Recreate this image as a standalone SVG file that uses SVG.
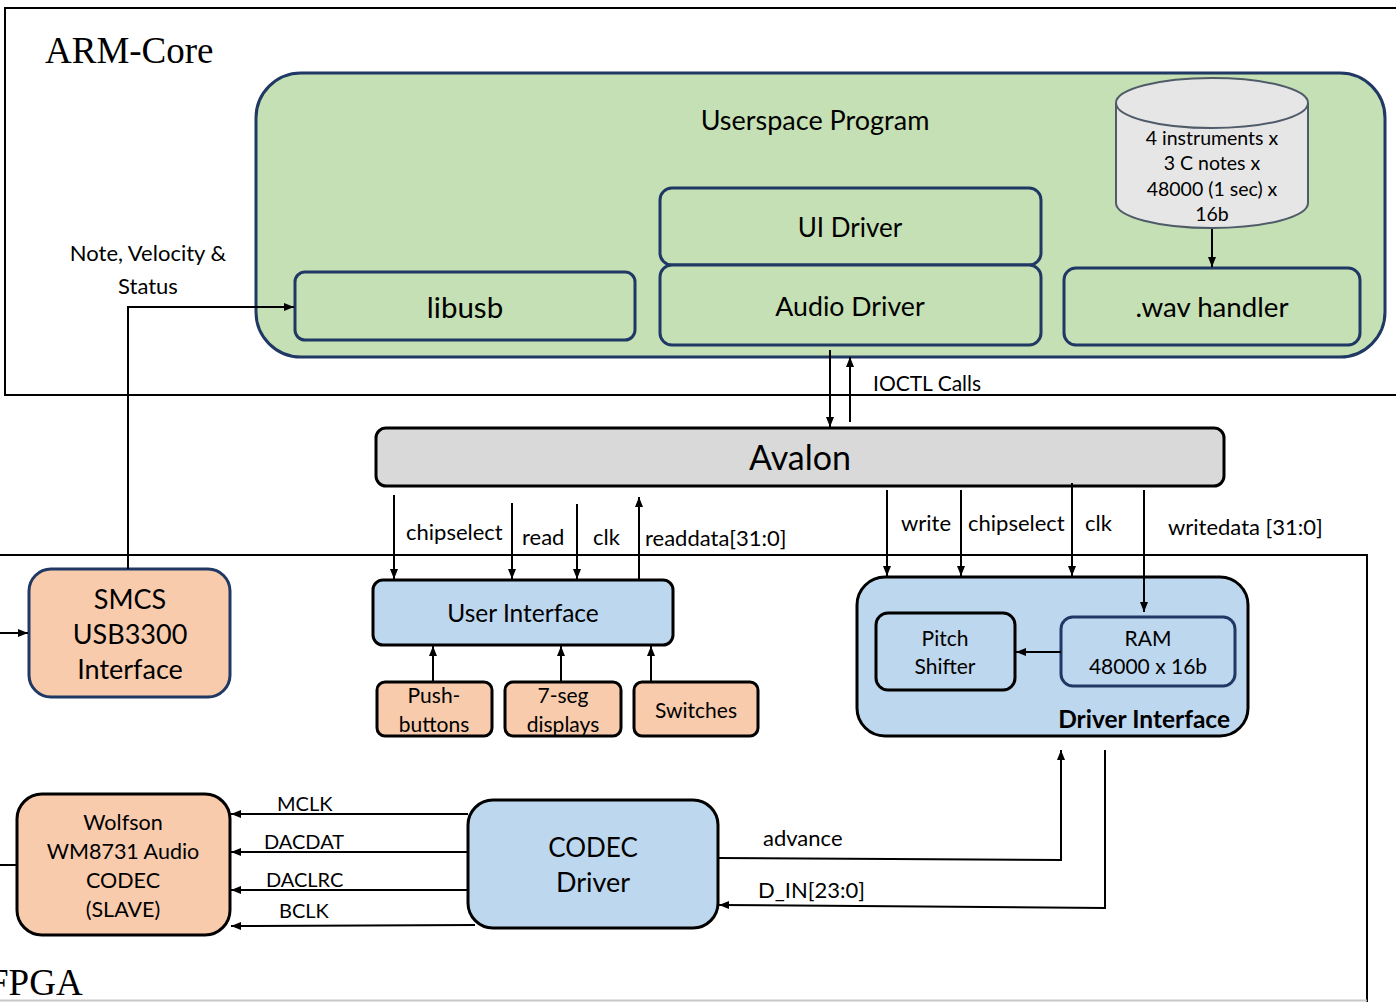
<svg xmlns="http://www.w3.org/2000/svg" width="1396" height="1002" viewBox="0 0 1396 1002">
  <defs>
    <marker id="ah" viewBox="0 0 10 10" refX="10" refY="5" markerWidth="10" markerHeight="10" markerUnits="userSpaceOnUse" orient="auto">
      <path d="M0,1 L10,5 L0,9 z" fill="#000"/>
    </marker>
    <style>
      text { font-family: Lato, "Open Sans", sans-serif; fill: #000; }
      .serif { font-family: "Liberation Serif", serif; font-size: 37px; }
      .c { text-anchor: middle; }
      .lbl { font-size: 22px; }
      .sig { font-size: 20px; }
      .region { fill: none; stroke: #000; stroke-width: 2; }
      .green { fill: #c5e0b4; stroke: #203864; stroke-width: 3; }
      .orange { fill: #f8cbad; stroke: #000; stroke-width: 3; }
      .orange-n { fill: #f8cbad; stroke: #203864; stroke-width: 3; }
      .blue { fill: #bdd7ee; stroke: #000; stroke-width: 3; }
      .blue-n { fill: #bdd7ee; stroke: #203864; stroke-width: 3; }
      .gray { fill: #d9d9d9; stroke: #000; stroke-width: 3; }
      .wire { fill: none; stroke: #000; stroke-width: 2; }
      .arrow { fill: none; stroke: #000; stroke-width: 2; marker-end: url(#ah); }
    </style>
  </defs>

  <rect width="1396" height="1002" fill="#fff"/>

  <!-- ARM-Core region -->
  <g id="arm-core">
    <rect class="region" x="5" y="8" width="1400" height="387"/>
    <text class="serif" x="45" y="63">ARM-Core</text>
  </g>

  <!-- FPGA region -->
  <g id="fpga">
    <rect class="region" x="-10" y="555" width="1377" height="460"/>
    <line x1="0" y1="1000.5" x2="1367" y2="1000.5" stroke="#c8c8c8" stroke-width="2"/>
    <text class="serif" x="-12" y="995">FPGA</text>
  </g>

  <!-- Userspace program container -->
  <g id="userspace">
    <rect class="green" x="256" y="73" width="1129" height="284" rx="45"/>
    <text class="c" x="815" y="130" font-size="27">Userspace Program</text>
  </g>

  <g id="libusb">
    <rect class="green" x="295" y="272" width="340" height="68" rx="10"/>
    <text class="c" x="465" y="318" font-size="29.5">libusb</text>
  </g>

  <g id="ui-driver">
    <rect class="green" x="660" y="188" width="381" height="77" rx="12"/>
    <text class="c" x="850" y="237" font-size="26">UI Driver</text>
  </g>

  <g id="audio-driver">
    <rect class="green" x="660" y="265" width="381" height="80" rx="12"/>
    <text class="c" x="850" y="316" font-size="26.7">Audio Driver</text>
  </g>

  <g id="wav-handler">
    <rect class="green" x="1064" y="268" width="296" height="77" rx="12"/>
    <text class="c" x="1212" y="317" font-size="27.7">.wav handler</text>
  </g>

  <g id="samples">
    <path d="M1116,103 L1116,203 A96,25 0 0 0 1308,203 L1308,103" fill="#e6e6e6" stroke="#4f5b69" stroke-width="2"/>
    <ellipse cx="1212" cy="103" rx="96" ry="25" fill="#e6e6e6" stroke="#4f5b69" stroke-width="2"/>
    <text class="c" x="1212" y="145" font-size="19.5">4 instruments x</text>
    <text class="c" x="1212" y="170" font-size="19.5">3 C notes x</text>
    <text class="c" x="1212" y="196" font-size="19.5">48000 (1 sec) x</text>
    <text class="c" x="1212" y="221" font-size="19.5">16b</text>
  </g>

  <g id="avalon">
    <rect class="gray" x="376" y="428" width="848" height="58" rx="10"/>
    <text class="c" x="800" y="470" font-size="34">Avalon</text>
  </g>

  <g id="smcs">
    <rect class="orange-n" x="29" y="569" width="201" height="128" rx="22"/>
    <text class="c" x="130" y="609" font-size="27">SMCS</text>
    <text class="c" x="130" y="644" font-size="27">USB3300</text>
    <text class="c" x="130" y="679" font-size="27">Interface</text>
  </g>

  <g id="user-interface">
    <rect class="blue" x="373" y="580" width="300" height="65" rx="10"/>
    <text class="c" x="523" y="622" font-size="24.5">User Interface</text>
  </g>

  <g id="pushbuttons">
    <rect class="orange" x="377" y="682" width="115" height="54" rx="8"/>
    <text class="c" x="434" y="703" font-size="21">Push-</text>
    <text class="c" x="434" y="732" font-size="21">buttons</text>
  </g>

  <g id="seven-seg">
    <rect class="orange" x="505" y="682" width="116" height="54" rx="8"/>
    <text class="c" x="563" y="703" font-size="21">7-seg</text>
    <text class="c" x="563" y="732" font-size="21">displays</text>
  </g>

  <g id="switches">
    <rect class="orange" x="634" y="682" width="124" height="54" rx="8"/>
    <text class="c" x="696" y="718" font-size="21">Switches</text>
  </g>

  <g id="driver-interface">
    <rect class="blue" x="857" y="577" width="391" height="159" rx="28"/>
    <text x="1230" y="728" font-size="24.5" font-weight="bold" text-anchor="end">Driver Interface</text>
  </g>

  <g id="pitch-shifter">
    <rect class="blue" x="876" y="613" width="139" height="77" rx="12"/>
    <text class="c" x="945" y="646" font-size="21">Pitch</text>
    <text class="c" x="945" y="674" font-size="21">Shifter</text>
  </g>

  <g id="ram">
    <rect class="blue-n" x="1061" y="617" width="174" height="69" rx="12"/>
    <text class="c" x="1148" y="646" font-size="21">RAM</text>
    <text class="c" x="1148" y="674" font-size="21">48000 x 16b</text>
  </g>

  <g id="codec-driver">
    <rect class="blue" x="468" y="800" width="250" height="128" rx="25"/>
    <text class="c" x="593" y="857" font-size="26">CODEC</text>
    <text class="c" x="593" y="892" font-size="27">Driver</text>
  </g>

  <g id="wolfson">
    <rect class="orange" x="17" y="794" width="213" height="141" rx="25"/>
    <text class="c" x="123" y="830" font-size="21.5">Wolfson</text>
    <text class="c" x="123" y="859" font-size="21.5">WM8731 Audio</text>
    <text class="c" x="123" y="888" font-size="21.5">CODEC</text>
    <text class="c" x="123" y="917" font-size="21.5">(SLAVE)</text>
  </g>

  <!-- Connectors -->
  <g id="connectors">
    <!-- samples to wav handler -->
    <line class="arrow" x1="1212" y1="229" x2="1212" y2="267"/>

    <!-- USB path -->
    <polyline class="arrow" points="128,569 128,307 294,307"/>
    <text class="c lbl" x="148" y="261">Note, Velocity &amp;</text>
    <text class="c lbl" x="148" y="294">Status</text>
    <line class="arrow" x1="0" y1="633" x2="28" y2="633"/>

    <!-- IOCTL -->
    <line class="arrow" x1="830" y1="350" x2="830" y2="427"/>
    <line class="arrow" x1="850" y1="422" x2="850" y2="357"/>
    <text x="873" y="391" font-size="21">IOCTL Calls</text>

    <!-- Avalon to User Interface -->
    <line class="arrow" x1="394" y1="495" x2="394" y2="579"/>
    <line class="arrow" x1="512" y1="503" x2="512" y2="579"/>
    <line class="arrow" x1="577" y1="504" x2="577" y2="579"/>
    <line class="arrow" x1="639" y1="580" x2="639" y2="497"/>
    <text class="lbl" x="406" y="540">chipselect</text>
    <text class="lbl" x="522" y="545">read</text>
    <text class="lbl" x="593" y="545">clk</text>
    <text class="lbl" x="645" y="546">readdata[31:0]</text>

    <!-- Board I/O to User Interface -->
    <line class="arrow" x1="433" y1="682" x2="433" y2="646"/>
    <line class="arrow" x1="561" y1="682" x2="561" y2="646"/>
    <line class="arrow" x1="651" y1="682" x2="651" y2="646"/>

    <!-- Avalon to Driver Interface -->
    <line class="arrow" x1="887" y1="490" x2="887" y2="576"/>
    <line class="arrow" x1="961" y1="490" x2="961" y2="576"/>
    <line class="arrow" x1="1072" y1="483" x2="1072" y2="576"/>
    <line class="arrow" x1="1144" y1="490" x2="1144" y2="612"/>
    <text class="lbl" x="901" y="531">write</text>
    <text class="lbl" x="968" y="531">chipselect</text>
    <text class="lbl" x="1085" y="531">clk</text>
    <text class="lbl" x="1168" y="535">writedata [31:0]</text>

    <!-- RAM to Pitch Shifter -->
    <line class="arrow" x1="1061" y1="652" x2="1016" y2="652"/>

    <!-- CODEC driver to Wolfson -->
    <line class="arrow" x1="468" y1="814" x2="231" y2="814"/>
    <line class="arrow" x1="468" y1="852" x2="231" y2="852"/>
    <line class="arrow" x1="468" y1="890" x2="231" y2="890"/>
    <line class="arrow" x1="475" y1="925" x2="231" y2="926"/>
    <text class="sig" x="277" y="811">MCLK</text>
    <text class="sig" x="264" y="849">DACDAT</text>
    <text class="sig" x="266" y="887">DACLRC</text>
    <text class="sig" x="279" y="918">BCLK</text>
    <line class="wire" x1="0" y1="865" x2="17" y2="865"/>

    <!-- CODEC driver to/from Driver Interface -->
    <polyline class="arrow" points="718,858 1061,860 1061,750"/>
    <polyline class="arrow" points="1105,750 1105,908 719,905"/>
    <text class="lbl" x="763" y="846">advance</text>
    <text class="lbl" x="758" y="898">D_IN[23:0]</text>
  </g>
</svg>
